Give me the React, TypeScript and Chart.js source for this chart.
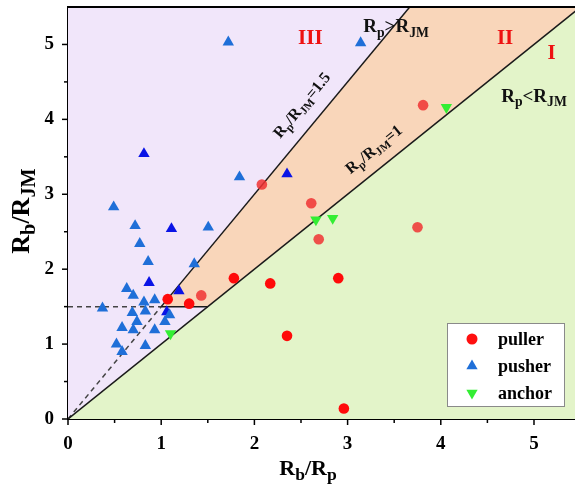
import React, { useEffect, useRef } from 'react';
import { Chart, registerables } from 'chart.js';
Chart.register(...registerables);

const FONT = '"Liberation Serif", "Times New Roman", serif';

// ---- data ----
const pullerSolid = [
  { x: 1.07, y: 1.60 }, { x: 1.30, y: 1.54 }, { x: 1.78, y: 1.88 }, { x: 2.17, y: 1.81 },
  { x: 2.35, y: 1.11 }, { x: 2.90, y: 1.88 }, { x: 2.96, y: 0.14 },
];
const pullerLight = [
  { x: 2.08, y: 3.13 }, { x: 2.61, y: 2.88 }, { x: 2.69, y: 2.40 }, { x: 3.75, y: 2.56 },
  { x: 1.43, y: 1.65 }, { x: 3.81, y: 4.19 },
];
const pusherLight = [
  { x: 0.49, y: 2.83 }, { x: 0.72, y: 2.58 }, { x: 1.505, y: 2.56 }, { x: 0.77, y: 2.34 },
  { x: 0.86, y: 2.10 }, { x: 1.355, y: 2.07 }, { x: 0.63, y: 1.74 }, { x: 0.70, y: 1.65 },
  { x: 0.815, y: 1.56 }, { x: 0.93, y: 1.59 }, { x: 0.37, y: 1.48 }, { x: 0.69, y: 1.42 },
  { x: 0.83, y: 1.44 }, { x: 1.09, y: 1.39 }, { x: 0.74, y: 1.30 }, { x: 0.70, y: 1.19 },
  { x: 0.58, y: 1.22 }, { x: 0.93, y: 1.19 }, { x: 1.04, y: 1.30 }, { x: 0.52, y: 1.00 },
  { x: 0.58, y: 0.90 }, { x: 0.83, y: 0.98 }, { x: 1.72, y: 5.03 }, { x: 1.84, y: 3.23 },
  { x: 3.14, y: 5.02 },
];
const pusherDark = [
  { x: 1.11, y: 2.54 }, { x: 0.87, y: 1.82 }, { x: 1.19, y: 1.71 }, { x: 1.06, y: 1.43 },
  { x: 0.815, y: 3.54 }, { x: 2.35, y: 3.27 },
];
const anchor = [
  { x: 2.66, y: 2.66 }, { x: 2.84, y: 2.68 }, { x: 4.06, y: 4.16 }, { x: 1.10, y: 1.14 },
];

// boundaries
const lineRatio1 = [{ x: 0, y: 0 }, { x: 5.5, y: 5.5 }];
const lineRatio15 = [{ x: 1, y: 1.5 }, { x: 3.6667, y: 5.5 }];
const lineRatio15Dash = [{ x: 0, y: 0 }, { x: 1, y: 1.5 }];
const lineHorizSolid = [{ x: 1, y: 1.5 }, { x: 1.5, y: 1.5 }];
const lineHorizDash = [{ x: 0, y: 1.5 }, { x: 1, y: 1.5 }];

const orangeRegion = [[1, 1.5], [1.5, 1.5], [5.5, 5.5], [3.6667, 5.5]];
const greenRegion = [[0, 0], [5.5, 5.5], [5.5, 0]];

const xTickValues = [0, 0.5, 1, 1.5, 2, 2.5, 3, 3.5, 4, 4.5, 5];
const yTickValues = [0, 0.5, 1, 1.5, 2, 2.5, 3, 3.5, 4, 4.5, 5];
const X_MIN = 0, X_MAX = 5.44, Y_MIN = 0, Y_MAX = 5.5;

const legendItems = [
  { label: 'puller', style: 'circle', color: '#FF1010', rotation: 0 },
  { label: 'pusher', style: 'triangle', color: '#1F6FD8', rotation: 0 },
  { label: 'anchor', style: 'triangle', color: '#33EE33', rotation: 180 },
];

type Seg = { t: string; sub?: boolean };

function drawRich(ctx: CanvasRenderingContext2D, segs: Seg[], x: number, y: number, size: number, color: string, subScale = 0.72) {
  const subSize = size * subScale;
  ctx.save();
  ctx.fillStyle = color;
  ctx.textBaseline = 'alphabetic';
  ctx.textAlign = 'left';
  let total = 0;
  const widths = segs.map((s) => {
    ctx.font = `bold ${s.sub ? subSize : size}px ${FONT}`;
    const w = ctx.measureText(s.t).width;
    total += w;
    return w;
  });
  let cx = x - total / 2;
  segs.forEach((s, i) => {
    ctx.font = `bold ${s.sub ? subSize : size}px ${FONT}`;
    ctx.fillText(s.t, cx, y + (s.sub ? size * 0.22 : 0));
    cx += widths[i];
  });
  ctx.restore();
}

function drawMarker(ctx: CanvasRenderingContext2D, style: string, r: number, rotation: number, x: number, y: number) {
  ctx.beginPath();
  if (style === 'circle') {
    ctx.arc(x, y, r, 0, Math.PI * 2);
  } else {
    let rad = (rotation * Math.PI) / 180;
    ctx.moveTo(x + Math.sin(rad) * r, y - Math.cos(rad) * r);
    rad += (2 * Math.PI) / 3;
    ctx.lineTo(x + Math.sin(rad) * r, y - Math.cos(rad) * r);
    rad += (2 * Math.PI) / 3;
    ctx.lineTo(x + Math.sin(rad) * r, y - Math.cos(rad) * r);
    ctx.closePath();
  }
  ctx.fill();
}

const decorPlugin = {
  id: 'decor',
  beforeDatasetsDraw(chart: any) {
    const { ctx, chartArea: a, scales } = chart;
    const xs = scales.x, ys = scales.y;
    ctx.save();
    ctx.beginPath();
    ctx.rect(a.left, a.top, a.right - a.left, a.bottom - a.top);
    ctx.clip();
    ctx.fillStyle = '#F1E6FA';
    ctx.fillRect(a.left, a.top, a.right - a.left, a.bottom - a.top);
    const poly = (pts: number[][], color: string) => {
      ctx.beginPath();
      pts.forEach((p, i) => {
        const px = xs.getPixelForValue(p[0]);
        const py = ys.getPixelForValue(p[1]);
        if (i === 0) ctx.moveTo(px, py); else ctx.lineTo(px, py);
      });
      ctx.closePath();
      ctx.fillStyle = color;
      ctx.fill();
    };
    poly(orangeRegion, '#F9D6BA');
    poly(greenRegion, '#E3F4C9');
    ctx.restore();
  },
  afterDatasetsDraw(chart: any) {
    const { ctx, chartArea: a, scales } = chart;
    const xs = scales.x, ys = scales.y;
    const P = (x: number, y: number) => [xs.getPixelForValue(x), ys.getPixelForValue(y)];

    // region labels
    const red = '#EE1111';
    let p = P(2.60, 5.01); drawRich(ctx, [{ t: 'III' }], p[0], p[1], 21, red);
    p = P(4.69, 5.01); drawRich(ctx, [{ t: 'II' }], p[0], p[1], 21, red);
    p = P(5.19, 4.81); drawRich(ctx, [{ t: 'I' }], p[0], p[1], 21, red);
    p = P(3.52, 5.16);
    drawRich(ctx, [{ t: 'R' }, { t: 'p', sub: true }, { t: '>R' }, { t: 'JM', sub: true }], p[0], p[1], 19, '#111');
    p = P(5.0, 4.23);
    drawRich(ctx, [{ t: 'R' }, { t: 'p', sub: true }, { t: '<R' }, { t: 'JM', sub: true }], p[0], p[1], 19, '#111');

    // rotated labels
    const rot = (cx: number, cy: number, slope: number, segs: Seg[]) => {
      const a0 = P(0, 0), a1 = P(1, slope);
      const ang = Math.atan2(a1[1] - a0[1], a1[0] - a0[0]);
      const c = P(cx, cy);
      ctx.save();
      ctx.translate(c[0], c[1]);
      ctx.rotate(ang);
      drawRich(ctx, segs, 0, 5, 16, '#111');
      ctx.restore();
    };
    rot(2.51, 4.19, 1.5, [{ t: 'R' }, { t: 'p', sub: true }, { t: '/R' }, { t: 'JM', sub: true }, { t: '=1.5' }]);
    rot(3.28, 3.60, 1, [{ t: 'R' }, { t: 'p', sub: true }, { t: '/R' }, { t: 'JM', sub: true }, { t: '=1' }]);

    // top border
    ctx.save();
    ctx.strokeStyle = '#000';
    ctx.lineWidth = 2;
    ctx.beginPath();
    ctx.moveTo(a.left, a.top);
    ctx.lineTo(a.right, a.top);
    ctx.stroke();
    // tick marks
    ctx.lineWidth = 1.5;
    xTickValues.forEach((v) => {
      const px = xs.getPixelForValue(v);
      const len = Number.isInteger(v) ? 6 : 4;
      ctx.beginPath();
      ctx.moveTo(px, a.bottom);
      ctx.lineTo(px, a.bottom + len);
      ctx.stroke();
    });
    yTickValues.forEach((v) => {
      const py = ys.getPixelForValue(v);
      const len = Number.isInteger(v) ? 6 : 4;
      ctx.beginPath();
      ctx.moveTo(a.left, py);
      ctx.lineTo(a.left - len, py);
      ctx.stroke();
    });
    ctx.restore();

    // legend
    const bx = 447, by = 323, bw = 117, bh = 83;
    ctx.save();
    ctx.fillStyle = '#FFFFFF';
    ctx.fillRect(bx, by, bw, bh);
    ctx.strokeStyle = '#8A8A8A';
    ctx.lineWidth = 1;
    ctx.strokeRect(bx + 0.5, by + 0.5, bw, bh);
    legendItems.forEach((it, i) => {
      const cy = by + 16 + i * 27;
      ctx.fillStyle = it.color;
      const r = it.style === 'circle' ? 5.5 : 6.5;
      drawMarker(ctx, it.style, r, it.rotation, bx + 25, cy);
      ctx.fillStyle = '#000';
      ctx.font = `bold 18px ${FONT}`;
      ctx.textBaseline = 'middle';
      ctx.textAlign = 'left';
      ctx.fillText(it.label, bx + 51, cy + 1);
    });
    ctx.restore();

    // axis titles
    drawRich(ctx, [{ t: 'R' }, { t: 'b', sub: true }, { t: '/R' }, { t: 'p', sub: true }], 308, 475, 22, '#000', 0.8);
    ctx.save();
    ctx.translate(29, 211);
    ctx.rotate(-Math.PI / 2);
    drawRich(ctx, [{ t: 'R' }, { t: 'b', sub: true }, { t: '/R' }, { t: 'JM', sub: true }], 0, 0, 26, '#000', 0.78);
    ctx.restore();
  },
};

export default function App() {
  const ref = useRef<HTMLCanvasElement | null>(null);
  useEffect(() => {
    if (!ref.current) return;
    const pt = (data: any, color: string, style: string, radius: number, rotation = 0, label = '') => ({
      label,
      data,
      backgroundColor: color,
      borderColor: color,
      pointStyle: style,
      pointRadius: radius,
      pointBorderWidth: 0,
      pointRotation: rotation,
      showLine: false,
      order: 1,
    });
    const ln = (data: any, dash: number[] = [], color = '#1a1a1a') => ({
      label: '',
      data,
      showLine: true,
      borderColor: color,
      borderWidth: 1.5,
      borderDash: dash,
      pointRadius: 0,
      order: 5,
    });
    const zeroPad = (s: any) => {
      s.paddingTop = 0; s.paddingBottom = 0; s.paddingLeft = 0; s.paddingRight = 0;
    };
    const chart = new Chart(ref.current, {
      type: 'scatter',
      data: {
        datasets: [
          pt(pullerSolid, '#FF0A0A', 'circle', 5.3, 0, 'puller'),
          pt(pullerLight, 'rgba(240,50,50,0.85)', 'circle', 5.3),
          pt(pusherLight, '#1F6FD8', 'triangle', 6.6, 0, 'pusher'),
          pt(pusherDark, '#0A14E6', 'triangle', 6.6),
          pt(anchor, '#33EE33', 'triangle', 6.6, 180, 'anchor'),
          ln(lineRatio1),
          ln(lineRatio15),
          ln(lineHorizSolid),
          ln(lineRatio15Dash, [5, 4], '#444'),
          ln(lineHorizDash, [5, 4], '#444'),
        ] as any,
      },
      options: {
        animation: false,
        responsive: false,
        devicePixelRatio: 1,
        layout: { autoPadding: false, padding: { left: 0, top: 7, right: 0, bottom: 0 } },
        plugins: { legend: { display: false }, tooltip: { enabled: false } },
        scales: {
          x: {
            type: 'linear',
            min: X_MIN,
            max: X_MAX,
            afterBuildTicks: (s: any) => { s.ticks = xTickValues.map((v) => ({ value: v })); },
            afterFit: (s: any) => { s.height = 69; zeroPad(s); },
            grid: { display: false, drawTicks: false },
            border: { display: true, color: '#000', width: 2 },
            ticks: {
              autoSkip: false,
              maxRotation: 0,
              padding: 14,
              color: '#000',
              font: { family: FONT, size: 19, weight: 'bold' },
              callback: (v: any) => (Number.isInteger(v) ? String(v) : ''),
            },
          },
          y: {
            type: 'linear',
            min: Y_MIN,
            max: Y_MAX,
            afterBuildTicks: (s: any) => { s.ticks = yTickValues.map((v) => ({ value: v })); },
            afterFit: (s: any) => { s.width = 68; zeroPad(s); },
            grid: { display: false, drawTicks: false },
            border: { display: true, color: '#000', width: 2 },
            ticks: {
              autoSkip: false,
              padding: 14,
              color: '#000',
              font: { family: FONT, size: 19, weight: 'bold' },
              callback: (v: any) => (Number.isInteger(v) ? String(v) : ''),
            },
          },
        },
      } as any,
      plugins: [decorPlugin],
    });
    return () => chart.destroy();
  }, []);
  return (
    <div style={{ position: 'absolute', left: 0, top: 0, width: 575, height: 488, background: '#fff' }}>
      <canvas ref={ref} width={575} height={488} style={{ display: 'block' }} />
    </div>
  );
}
